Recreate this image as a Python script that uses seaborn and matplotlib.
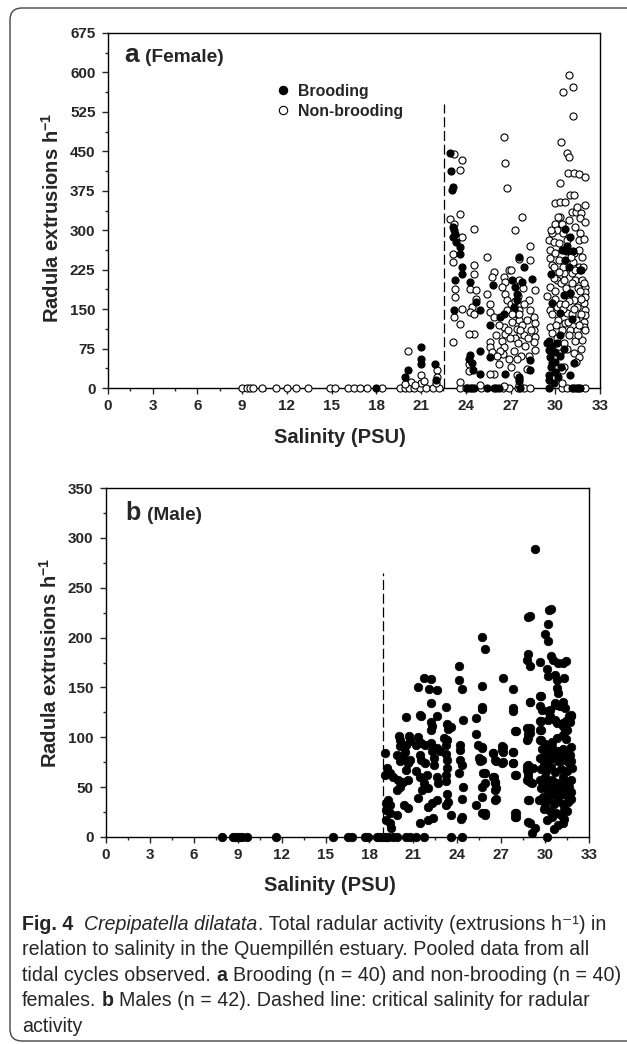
import pandas as pd
import matplotlib.pyplot as plt
import seaborn as sns
from matplotlib.lines import Line2D
from matplotlib.patches import FancyBboxPatch
from matplotlib.transforms import IdentityTransform
from matplotlib.ticker import MultipleLocator

# ---- data: (salinity PSU, radula extrusions per h) ----
fem_nonbrooding = [
    # zero activity
    (9.0, 0), (9.3, 0), (9.5, 0), (9.7, 0), (10.3, 0), (11.3, 0), (12.0, 0), (12.6, 0), (13.4, 0),
    (14.9, 0), (15.2, 0), (16.1, 0), (16.5, 0), (16.9, 0), (17.4, 0), (18.4, 0), (19.6, 0), (19.9, 0),
    (20.2, 0), (20.5, 0), (20.9, 0), (21.3, 0), (21.8, 0), (22.2, 0), (23.6, 0), (24.0, 0), (25.0, 0),
    (26.5, 0), (26.9, 0), (27.5, 0), (27.9, 0), (28.3, 0), (30.45, 0), (30.8, 0), (31.5, 0), (32.0, 0),
    # below critical salinity
    (20.1, 70), (20.3, 12), (19.9, 8), (21.0, 24), (21.0, 10), (21.2, 14), (22.1, 34), (22.1, 21),
    (22.0, 10), (20.6, 5),
    # 23-29 PSU
    (23.22, 444), (23.73, 433), (23.58, 415), (26.58, 477), (26.6, 427), (26.75, 380), (23.58, 331),
    (22.95, 322), (23.22, 311), (24.52, 302), (23.73, 287), (27.31, 300), (25.41, 249), (27.54, 246),
    (23.13, 255), (23.17, 240), (24.52, 233), (24.52, 217), (25.9, 220), (25.75, 211), (26.87, 225),
    (27.02, 225), (26.53, 211), (26.64, 201), (26.42, 192), (27.6, 205), (23.29, 189), (23.29, 173),
    (24.29, 189), (24.7, 186), (24.7, 170), (25.41, 179), (26.64, 179), (26.75, 167), (24.41, 154),
    (24.25, 144), (24.52, 141), (23.73, 151), (23.22, 135), (23.62, 122), (25.64, 160), (25.64, 144),
    (25.86, 135), (26.75, 148), (27.6, 148), (27.54, 129), (27.43, 113), (27.65, 103), (26.53, 116),
    (26.64, 103), (26.42, 90), (26.53, 78), (26.49, 65), (26.2, 46), (25.86, 27), (25.64, 27),
    (27.43, 24), (27.6, 18), (25.64, 87), (25.64, 78), (25.75, 68), (24.18, 46), (24.18, 33),
    (24.52, 103), (24.18, 103), (23.17, 87), (23.62, 11), (24.96, 5), (26.53, 3), (27.54, 5),
    (27.75, 325), (28.3, 270), (28.32, 243), (28.66, 187), (28.21, 167), (28.32, 148), (28.54, 135),
    (28.66, 123), (28.54, 110), (28.66, 97), (28.54, 88), (28.66, 72), (28.1, 37),
    (27.0, 160), (27.2, 150), (27.4, 140), (27.1, 125), (27.3, 95), (27.5, 85), (27.8, 120),
    (27.9, 100), (28.0, 80), (27.7, 60), (27.2, 70), (26.9, 55), (27.0, 40), (27.6, 140), (27.9, 160),
    (28.1, 130), (28.4, 110), (26.2, 120), (26.0, 100), (26.3, 70), (26.1, 60), (26.8, 110),
    (27.5, 175), (27.85, 190), (27.3, 165), (27.65, 110), (27.1, 140), (28.15, 95), (27.45, 55),
    (26.95, 95), (28.25, 60),
    # 29-32 PSU
    (30.89, 596), (30.51, 563), (31.18, 573), (31.18, 517), (30.4, 468), (30.78, 447), (30.89, 440),
    (30.85, 409), (31.23, 409), (31.56, 406), (31.97, 402), (30.29, 389), (30.0, 351), (30.33, 354),
    (30.67, 354), (31.0, 367), (31.23, 367), (31.12, 335), (31.41, 335), (31.74, 333), (31.97, 348),
    (31.68, 324), (31.97, 315), (30.0, 312), (30.45, 312), (30.11, 300), (29.78, 294), (30.51, 294),
    (31.63, 295), (31.56, 281), (31.9, 284), (29.55, 281), (29.89, 278), (30.22, 275), (30.78, 281),
    (31.23, 256), (31.56, 262), (29.66, 262), (29.66, 248), (29.78, 234), (30.22, 243), (31.12, 218),
    (31.34, 205), (31.79, 205), (32.01, 192), (32.01, 183), (32.01, 173), (31.9, 161), (32.01, 148),
    (32.01, 139), (31.9, 126), (31.0, 180), (31.23, 167), (31.45, 154), (29.66, 192), (29.44, 174),
    (29.66, 148), (30.11, 154), (30.78, 142), (30.67, 123), (31.0, 110), (31.45, 110), (31.9, 116),
    (31.79, 91), (29.66, 116), (29.78, 104), (30.33, 66), (30.78, 75), (31.23, 66), (31.56, 59),
    (30.56, 40), (30.45, 34), (30.45, 9), (30.11, 205), (30.56, 218), (30.0, 256), (30.89, 319),
    (31.34, 307), (30.33, 326),
    (30.0, 170), (30.3, 160), (30.5, 150), (30.9, 165), (31.1, 140), (31.4, 130), (31.7, 170),
    (31.6, 230), (31.8, 250), (29.9, 210), (30.4, 200), (30.7, 190), (31.1, 200), (31.5, 190),
    (30.2, 130), (30.9, 100), (31.3, 90), (31.6, 120), (30.6, 85), (31.9, 200), (31.2, 240),
    (30.5, 230), (29.8, 140), (30.1, 95), (31.7, 75), (31.4, 50),
    (29.9, 230), (30.25, 220), (30.6, 205), (31.05, 250), (31.35, 225), (31.75, 140), (31.55, 100),
    (30.05, 120), (30.45, 110), (30.85, 125), (31.25, 150), (29.95, 185), (30.65, 160), (31.65, 185),
    (31.85, 230), (32.0, 110), (29.7, 300), (30.2, 325), (31.45, 345),
]

fem_brooding = [
    (18.0, 0), (24.29, 0), (24.41, 0), (24.52, 0), (25.41, 0), (25.86, 0), (26.2, 0), (27.65, 0),
    (31.12, 0), (31.23, 0), (31.45, 0), (31.68, 0), (29.6, 0), (24.1, 0), (26.0, 0),
    (20.1, 34), (19.9, 20), (21.0, 78), (21.0, 56), (21.0, 46), (21.9, 46), (22.0, 15),
    (22.95, 447), (23.0, 413), (23.13, 383), (23.06, 376), (23.22, 300), (23.29, 293), (23.13, 287),
    (23.35, 278), (23.17, 306), (23.58, 268), (23.62, 255), (23.73, 230), (23.73, 217), (23.29, 205),
    (24.29, 201), (24.7, 163), (24.96, 148), (23.22, 149), (25.81, 195), (27.6, 249), (27.09, 205),
    (27.31, 192), (27.43, 179), (27.43, 167), (27.2, 154), (25.59, 119), (26.31, 135), (26.53, 141),
    (26.64, 27), (25.59, 59), (24.92, 71), (24.18, 56), (24.92, 27), (28.43, 208), (27.76, 202),
    (28.32, 53), (27.87, 230), (28.3, 34), (27.55, 20), (27.55, 14), (24.3, 62), (24.4, 48), (24.5, 34),
    (30.67, 303), (31.0, 288), (30.45, 262), (30.67, 243), (31.63, 224), (30.89, 230), (30.56, 177),
    (29.78, 161), (30.33, 142), (31.12, 132), (29.44, 85), (29.55, 72), (30.0, 69), (29.66, 59),
    (29.78, 47), (31.23, 47), (30.0, 31), (31.0, 24), (29.55, 15), (29.6, 90), (29.8, 80), (30.1, 85),
    (30.3, 60), (29.7, 40), (30.0, 50), (30.4, 40), (29.6, 25), (30.2, 20), (29.9, 10), (30.6, 75),
    (30.3, 100), (31.0, 180), (31.2, 260), (30.8, 270), (29.7, 216), (30.7, 261), (31.7, 224),
]

male = [
    # zero activity
    (7.9, 0), (8.7, 0), (8.9, 0), (9.1, 0), (9.3, 0), (9.6, 0), (11.6, 0), (15.5, 0), (16.5, 0),
    (16.8, 0), (17.7, 0), (17.9, 0), (18.5, 0), (18.7, 0), (18.9, 0), (19.1, 0), (19.3, 0), (19.6, 0),
    (19.9, 0), (20.5, 0), (20.8, 0), (21.2, 0), (21.7, 0), (23.6, 0), (24.3, 0), (30.1, 0), (29.1, 4),
    # above critical salinity
    (29.3, 289), (28.85, 221), (29.0, 222), (30.3, 228), (30.4, 229), (30.2, 214), (30.0, 204),
    (30.2, 197), (25.7, 201), (25.9, 189), (28.85, 184), (28.75, 178), (29.0, 171), (29.65, 176),
    (30.4, 182), (30.55, 178), (30.9, 174), (31.25, 175), (31.4, 177), (30.1, 168), (30.2, 161),
    (30.7, 162), (30.8, 157), (31.3, 159), (24.1, 171), (24.1, 157), (24.3, 148), (21.7, 159),
    (22.2, 158), (21.3, 150), (22.1, 148), (22.6, 147), (27.1, 159), (27.8, 148), (25.7, 151),
    (30.8, 149), (30.9, 144), (22.2, 134), (23.2, 130), (25.7, 130), (25.7, 128), (27.8, 129),
    (27.8, 126), (29.65, 141), (29.0, 135), (29.65, 131), (29.8, 127), (30.2, 126), (30.7, 132),
    (31.25, 135), (31.35, 129), (20.5, 120), (21.45, 122), (21.55, 121), (22.6, 121), (22.2, 115),
    (22.25, 111), (22.2, 107), (23.3, 113), (23.55, 110), (23.4, 108), (24.4, 117), (25.3, 119),
    (31.8, 121), (31.45, 116), (31.7, 115), (29.65, 116), (30.2, 117), (30.7, 117), (30.8, 114),
    (31.25, 111), (31.35, 107), (28.0, 106), (28.95, 109), (28.85, 103), (28.8, 99), (29.65, 107),
    (29.65, 97), (30.0, 93), (30.45, 95), (30.8, 99), (31.25, 102), (31.45, 98), (25.3, 103),
    (20.0, 101), (20.1, 97), (20.7, 101), (20.8, 96), (20.5, 92), (21.3, 100), (21.2, 92), (21.5, 94),
    (21.8, 92), (22.2, 94), (22.4, 89), (22.6, 89), (23.1, 99), (23.3, 97), (23.2, 92), (20.1, 91),
    (24.2, 92), (24.2, 87), (25.4, 92), (25.7, 89), (27.05, 91), (27.05, 87), (27.8, 85), (19.06, 84),
    (20.4, 85), (20.3, 81), (19.85, 82), (20.1, 76), (20.8, 77), (20.6, 74), (21.45, 82), (21.55, 77),
    (21.8, 74), (22.25, 86), (22.4, 79), (22.4, 72), (22.8, 86), (23.2, 83), (23.3, 77), (24.2, 77),
    (24.3, 72), (25.5, 79), (25.55, 76), (26.45, 84), (26.65, 76), (27.05, 74), (27.8, 74),
    (28.85, 72), (28.75, 67), (29.2, 69), (29.65, 79), (29.9, 74), (30.2, 70), (30.55, 79), (30.9, 76),
    (31.25, 77), (31.6, 74), (31.8, 76), (19.2, 69), (19.4, 64), (19.05, 62), (19.6, 60), (19.95, 57),
    (20.3, 55), (20.65, 57), (20.5, 67), (21.2, 66), (21.45, 60), (21.9, 62), (21.7, 54), (22.0, 49),
    (21.6, 47), (22.6, 60), (22.7, 54), (23.3, 69), (23.2, 62), (23.2, 56), (24.1, 64), (24.4, 50),
    (25.9, 64), (25.9, 54), (26.45, 60), (26.6, 54), (26.65, 49), (28.0, 62), (28.85, 60), (28.95, 55),
    (29.65, 57), (30.0, 60), (30.1, 54), (30.45, 57), (30.8, 54), (31.25, 60), (31.45, 55), (31.8, 57),
    (31.6, 50), (29.7, 49), (30.2, 44), (30.7, 47), (31.0, 42), (31.25, 47), (31.45, 42),
    (19.9, 47), (20.1, 50), (19.3, 37), (19.1, 34), (19.4, 32), (19.15, 27), (19.4, 24), (19.9, 22),
    (20.35, 32), (20.65, 29), (21.3, 39), (22.0, 30), (22.25, 34), (22.6, 37), (23.3, 43), (23.4, 35),
    (23.2, 32), (23.6, 22), (24.3, 38), (24.3, 20), (24.25, 18), (25.3, 32), (25.7, 24), (25.9, 22),
    (26.65, 38), (28.0, 24), (28.0, 20), (28.85, 37), (29.6, 37), (30.0, 32), (30.5, 42), (30.6, 33),
    (31.2, 33), (31.3, 27), (28.85, 15), (30.1, 17), (30.45, 20), (31.25, 14), (21.45, 14), (22.0, 17),
    (22.35, 19), (19.15, 17), (19.4, 14), (19.5, 9), (29.3, 9),
    (29.8, 88), (30.15, 85), (30.5, 90), (30.85, 86), (31.2, 88), (31.5, 84), (31.75, 90),
    (29.9, 80), (30.3, 78), (30.6, 82), (31.0, 80), (31.35, 78), (31.7, 82), (29.75, 68), (30.05, 66),
    (30.4, 70), (30.7, 65), (31.1, 68), (31.5, 66), (31.85, 69), (30.3, 50), (30.6, 52), (30.95, 50),
    (31.3, 52), (31.75, 45), (29.85, 40), (30.2, 38), (30.9, 36), (31.55, 35), (31.8, 38),
    (29.95, 28), (30.35, 26), (30.75, 24), (31.1, 22), (31.5, 26), (30.9, 12), (31.3, 18), (30.6, 8),
    (28.97, 135), (29.72, 141), (27.94, 106), (28.74, 109), (29.0, 104), (28.74, 97), (29.72, 116),
    (29.72, 107), (29.72, 97), (30.33, 127), (30.67, 134), (30.33, 121), (31.02, 131), (31.24, 114),
    (31.65, 121), (31.47, 107), (31.8, 122), (25.66, 90), (25.66, 77), (25.78, 64), (25.66, 50),
    (25.66, 40), (25.9, 24), (26.46, 84), (26.58, 77), (26.5, 60), (26.58, 55), (26.58, 47),
    (26.58, 37), (27.1, 90), (27.1, 85), (27.1, 75), (27.78, 85), (27.78, 74), (27.94, 62),
    (28.74, 71), (28.85, 64), (28.74, 57), (29.08, 54), (28.92, 37), (27.94, 24), (27.94, 20),
    (28.97, 14),
]

crit_female = (22.55, 540)   # dashed line: salinity, height
crit_male = (18.9, 265)

caption = [
    [("Fig. 4", "bold", "normal"), ("  Crepipatella dilatata", "normal", "italic"),
     (". Total radular activity (extrusions h\u207b\u00b9) in", "normal", "normal")],
    [("relation to salinity in the Quempill\u00e9n estuary. Pooled data from all", "normal", "normal")],
    [("tidal cycles observed.", "normal", "normal"), (" a", "bold", "normal"),
     (" Brooding (n = 40) and non-brooding (n = 40)", "normal", "normal")],
    [("females.", "normal", "normal"), (" b", "bold", "normal"),
     (" Males (n = 42). Dashed line: critical salinity for radular", "normal", "normal")],
    [("activity", "normal", "normal")],
]

# ---- style ----
sns.set_style("ticks")
plt.rcParams["font.family"] = ["Liberation Sans", "DejaVu Sans"]
plt.rcParams["mathtext.fontset"] = "custom"
plt.rcParams["mathtext.rm"] = "Liberation Sans"
plt.rcParams["mathtext.bf"] = "Liberation Sans:bold"
plt.rcParams["mathtext.it"] = "Liberation Sans:italic"
CAP_FONTS = ["Liberation Sans Narrow", "Liberation Sans", "DejaVu Sans"]

W, H = 627, 1044
fig = plt.figure(figsize=(W / 100, H / 100), dpi=100)


def px_ax(l, t, r, b):
    return fig.add_axes([l / W, 1 - b / H, (r - l) / W, (b - t) / H])


def style_axes(ax, ymax, ymajor):
    ax.set_xlim(0, 33)
    ax.set_ylim(0, ymax)
    ax.xaxis.set_major_locator(MultipleLocator(3))
    ax.xaxis.set_minor_locator(MultipleLocator(1.5))
    ax.yaxis.set_major_locator(MultipleLocator(ymajor))
    ax.yaxis.set_minor_locator(MultipleLocator(ymajor / 2))
    ax.tick_params(which="major", direction="out", length=4, width=1, labelsize=11, pad=4)
    ax.tick_params(axis="y", which="major", pad=5)
    ax.tick_params(which="minor", direction="out", length=2.5, width=1)
    for lab in ax.get_xticklabels() + ax.get_yticklabels():
        lab.set_fontweight("bold")
    for sp in ax.spines.values():
        sp.set_visible(True)
        sp.set_linewidth(1)
        sp.set_color("black")


# ---- panel a ----
fem = pd.DataFrame(fem_nonbrooding, columns=["sal", "rad"]).assign(status="Non-brooding")
fem = pd.concat([fem, pd.DataFrame(fem_brooding, columns=["sal", "rad"]).assign(status="Brooding")])

ax_a = px_ax(108, 33, 600, 388)
style_axes(ax_a, 675, 75)
ax_a.vlines(crit_female[0], 0, crit_female[1], colors="black", linewidth=0.9,
            linestyles=(0, (8, 3)), zorder=2)
for status, face in [("Non-brooding", "white"), ("Brooding", "black")]:
    sns.scatterplot(data=fem[fem.status == status], x="sal", y="rad", ax=ax_a,
                    color=face, edgecolor="black", linewidth=0.8, s=26,
                    legend=False, clip_on=False, zorder=3)
ax_a.set_xlabel("Salinity (PSU)", fontsize=14.5, fontweight="bold")
ax_a.set_ylabel(r"Radula extrusions h$^{\mathbf{-1}}$", fontsize=14.5, fontweight="bold")
ax_a.xaxis.set_label_coords((340 - 108) / 492, (388 - 428) / 355)
ax_a.yaxis.set_label_coords((63 - 108) / 492, 0.48)

handles = [Line2D([], [], marker="o", ls="", ms=6, mfc="black", mec="black", mew=0.8),
           Line2D([], [], marker="o", ls="", ms=6, mfc="white", mec="black", mew=0.8)]
ax_a.legend(handles, ["Brooding", "Non-brooding"], loc="upper left",
            bbox_to_anchor=(275 / W, 1 - 84 / H), bbox_transform=fig.transFigure,
            frameon=False, borderpad=0, borderaxespad=0, handlelength=1.0,
            handletextpad=0.45, labelspacing=0.3, prop={"size": 11.4, "weight": "bold"})

fig.text(124 / W, 1 - 61.5 / H, "a", fontsize=19, fontweight="bold", va="baseline")
fig.text(145 / W, 1 - 61.5 / H, "(Female)", fontsize=13.8, fontweight="bold", va="baseline")

# ---- panel b ----
mal = pd.DataFrame(male, columns=["sal", "rad"])
ax_b = px_ax(106, 488, 589, 837)
style_axes(ax_b, 350, 50)
ax_b.vlines(crit_male[0], 0, crit_male[1], colors="black", linewidth=0.9,
            linestyles=(0, (8, 3)), zorder=2)
sns.scatterplot(data=mal, x="sal", y="rad", ax=ax_b, color="black", edgecolor="black",
                linewidth=0.5, s=38, legend=False, clip_on=False, zorder=3)
ax_b.set_xlabel("Salinity (PSU)", fontsize=14.5, fontweight="bold")
ax_b.set_ylabel(r"Radula extrusions h$^{\mathbf{-1}}$", fontsize=14.5, fontweight="bold")
ax_b.xaxis.set_label_coords((330 - 106) / 483, (837 - 876) / 349)
ax_b.yaxis.set_label_coords((61 - 106) / 483, 0.5)

fig.text(125 / W, 1 - 520 / H, "b", fontsize=18, fontweight="bold", va="baseline")
fig.text(147 / W, 1 - 520 / H, "(Male)", fontsize=13.7, fontweight="bold", va="baseline")

# ---- caption ----
renderer = fig.canvas.get_renderer()


def text_w(s, size, weight, style):
    t = fig.text(0, 0, s, fontsize=size, fontweight=weight, fontstyle=style, family=CAP_FONTS)
    w = t.get_window_extent(renderer).width
    t.remove()
    return w


def line_w(runs, size):
    sp = text_w("x x", size, "normal", "normal") - text_w("xx", size, "normal", "normal")
    total = 0
    for s, wt, st in runs:
        n = len(s) - len(s.lstrip(" "))
        total += n * sp + text_w(s.strip(" "), size, wt, st)
    return total


cap_size = 10 * 598 / line_w(caption[2], 10)
space_w = text_w("x x", cap_size, "normal", "normal") - text_w("xx", cap_size, "normal", "normal")
for i, runs in enumerate(caption):
    x = 22
    y = 929.5 + 25.6 * i
    for s, wt, st in runs:
        x += (len(s) - len(s.lstrip(" "))) * space_w
        t = fig.text(x / W, 1 - y / H, s.strip(" "), fontsize=cap_size, fontweight=wt,
                     fontstyle=st, family=CAP_FONTS, va="baseline")
        x += t.get_window_extent(renderer).width

# rounded frame around the figure (open to the right edge)
frame = FancyBboxPatch((10, 3), 700, 1033, boxstyle="round,pad=0,rounding_size=12",
                       transform=IdentityTransform(), fill=False, edgecolor="#444444",
                       linewidth=1.0)
fig.patches.append(frame)

fig.savefig("out.png", dpi=100)
